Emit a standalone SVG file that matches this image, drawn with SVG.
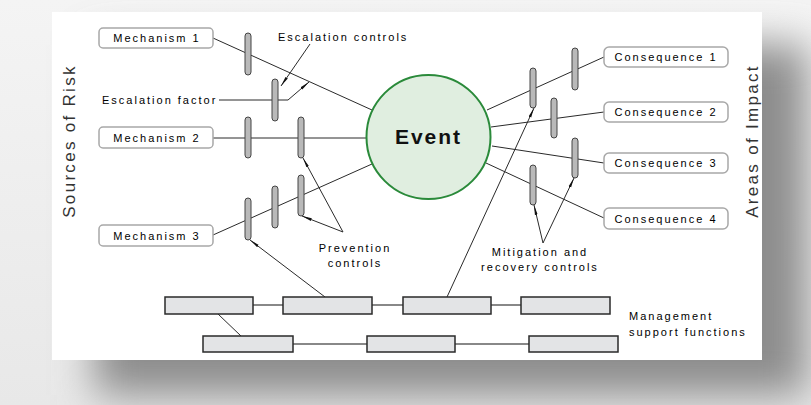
<svg xmlns="http://www.w3.org/2000/svg" width="811" height="405" viewBox="0 0 811 405">
<defs>
<linearGradient id="bg" x1="0" y1="0" x2="0" y2="1"><stop offset="0" stop-color="#f4f4f4"/><stop offset="1" stop-color="#e8e8e8"/></linearGradient>
<filter id="sh" x="-20%" y="-20%" width="140%" height="140%"><feGaussianBlur stdDeviation="20"/></filter>
<marker id="ah" viewBox="0 0 10 4" refX="10" refY="2" markerWidth="10" markerHeight="4" markerUnits="userSpaceOnUse" orient="auto"><path d="M0,0.6 L10,2 L0,3.4 Z" fill="#111"/></marker>
<style>
.lbl{font-family:"Liberation Sans",Arial,sans-serif;font-size:11px;letter-spacing:2px;fill:#000}
.side{font-family:"Liberation Sans",Arial,sans-serif;font-size:17px;letter-spacing:2.3px;fill:#333}
.box{fill:#fff;stroke:#a8a8a8;stroke-width:1.5}
.bar{fill:#b9b9b9;stroke:#444;stroke-width:1}
.ln{stroke:#2a2a2a;stroke-width:1;fill:none}
.ptr{stroke:#2a2a2a;stroke-width:1;fill:none;marker-end:url(#ah)}
.mg{fill:#e3e4e6;stroke:#2a2a2a;stroke-width:1.5}
.ml{stroke:#888;stroke-width:2;fill:none}
</style>
</defs>
<rect width="811" height="405" fill="url(#bg)"/>
<rect x="95" y="45" width="712" height="350" fill="#8c8c8c" filter="url(#sh)"/>
<rect x="52" y="12" width="710" height="348" fill="#fff"/>

<text class="side" transform="translate(75,141) rotate(-90)" text-anchor="middle">Sources of Risk</text>
<text class="side" transform="translate(758,141) rotate(-90)" text-anchor="middle">Areas of Impact</text>

<g id="connectors">
<line class="ln" x1="213" y1="38" x2="372" y2="110"/>
<line class="ln" x1="213" y1="138" x2="366" y2="138"/>
<line class="ln" x1="213" y1="235" x2="372" y2="164"/>
<line class="ln" x1="487" y1="110" x2="604" y2="57"/>
<line class="ln" x1="491" y1="127" x2="604" y2="112"/>
<line class="ln" x1="492" y1="146" x2="604" y2="163"/>
<line class="ln" x1="486" y1="163" x2="604" y2="218"/>
<line class="ln" x1="219" y1="100" x2="272" y2="100"/>
<polyline class="ptr" points="278,100 288,100 309,82"/>
<line class="ptr" x1="310" y1="44" x2="281" y2="86"/>
<line class="ptr" x1="343" y1="232" x2="303" y2="158"/>
<line class="ptr" x1="343" y1="232" x2="302" y2="216"/>
<line class="ptr" x1="325" y1="297" x2="250" y2="240"/>
<line class="ptr" x1="447" y1="297" x2="534" y2="108"/>
<line class="ptr" x1="543" y1="243" x2="534" y2="205"/>
<line class="ptr" x1="543" y1="243" x2="574" y2="178"/>
<line class="ml" x1="253" y1="305" x2="283" y2="305"/>
<line class="ml" x1="372" y1="305" x2="403" y2="305"/>
<line class="ml" x1="491" y1="305" x2="521" y2="305"/>
<line class="ml" x1="293" y1="344" x2="367" y2="344"/>
<line class="ml" x1="455" y1="344" x2="529" y2="344"/>
<line class="ln" x1="218" y1="314" x2="241" y2="336" stroke-width="1.5"/>
</g>

<g id="barriers">
<rect class="bar" x="245" y="33" width="6" height="42" rx="3"/>
<rect class="bar" x="272" y="79" width="6" height="42" rx="3"/>
<rect class="bar" x="245" y="117" width="6" height="41" rx="3"/>
<rect class="bar" x="298" y="117" width="6" height="41" rx="3"/>
<rect class="bar" x="245" y="198" width="6" height="42" rx="3"/>
<rect class="bar" x="272" y="186" width="6" height="42" rx="3"/>
<rect class="bar" x="298" y="175" width="6" height="41" rx="3"/>
<rect class="bar" x="530" y="68" width="6" height="40" rx="3"/>
<rect class="bar" x="572" y="48" width="6" height="42" rx="3"/>
<rect class="bar" x="551" y="98" width="6" height="40" rx="3"/>
<rect class="bar" x="572" y="138" width="6" height="40" rx="3"/>
<rect class="bar" x="530" y="165" width="6" height="40" rx="3"/>
</g>

<g id="mech1"><rect class="box" x="99" y="28" width="114" height="20" rx="4"/><text class="lbl" x="157" y="42" text-anchor="middle">Mechanism 1</text></g>
<g id="mech2"><rect class="box" x="99" y="127" width="114" height="21" rx="4"/><text class="lbl" x="157" y="142" text-anchor="middle">Mechanism 2</text></g>
<g id="mech3"><rect class="box" x="99" y="225" width="114" height="21" rx="4"/><text class="lbl" x="157" y="240" text-anchor="middle">Mechanism 3</text></g>

<g id="cons1"><rect class="box" x="604" y="47" width="124" height="20" rx="5"/><text class="lbl" x="666" y="61" text-anchor="middle">Consequence 1</text></g>
<g id="cons2"><rect class="box" x="604" y="102" width="124" height="20" rx="5"/><text class="lbl" x="666" y="116" text-anchor="middle">Consequence 2</text></g>
<g id="cons3"><rect class="box" x="604" y="153" width="124" height="20" rx="5"/><text class="lbl" x="666" y="167" text-anchor="middle">Consequence 3</text></g>
<g id="cons4"><rect class="box" x="604" y="208" width="124" height="21" rx="5"/><text class="lbl" x="666" y="223" text-anchor="middle">Consequence 4</text></g>

<g id="event"><circle cx="428.5" cy="137" r="62" fill="#e0eee0" stroke="#2a8a3a" stroke-width="2"/><text x="428.5" y="144" text-anchor="middle" font-family="Liberation Sans, Arial, sans-serif" font-size="21" font-weight="bold" letter-spacing="2" fill="#111">Event</text></g>

<g id="labels">
<text class="lbl" x="278" y="41">Escalation controls</text>
<text class="lbl" x="102" y="104">Escalation factor</text>
<text class="lbl" x="355" y="252" text-anchor="middle">Prevention</text>
<text class="lbl" x="355" y="267" text-anchor="middle">controls</text>
<text class="lbl" x="540" y="256" text-anchor="middle">Mitigation and</text>
<text class="lbl" x="540" y="271" text-anchor="middle">recovery controls</text>
<text class="lbl" x="629" y="320">Management</text>
<text class="lbl" x="629" y="336">support functions</text>
</g>

<g id="mgmt">
<rect class="mg" x="165" y="297" width="88" height="17"/>
<rect class="mg" x="283" y="297" width="89" height="17"/>
<rect class="mg" x="403" y="297" width="88" height="17"/>
<rect class="mg" x="521" y="297" width="89" height="17"/>
<rect class="mg" x="203" y="336" width="90" height="16"/>
<rect class="mg" x="367" y="336" width="88" height="16"/>
<rect class="mg" x="529" y="336" width="89" height="16"/>
</g>
</svg>
